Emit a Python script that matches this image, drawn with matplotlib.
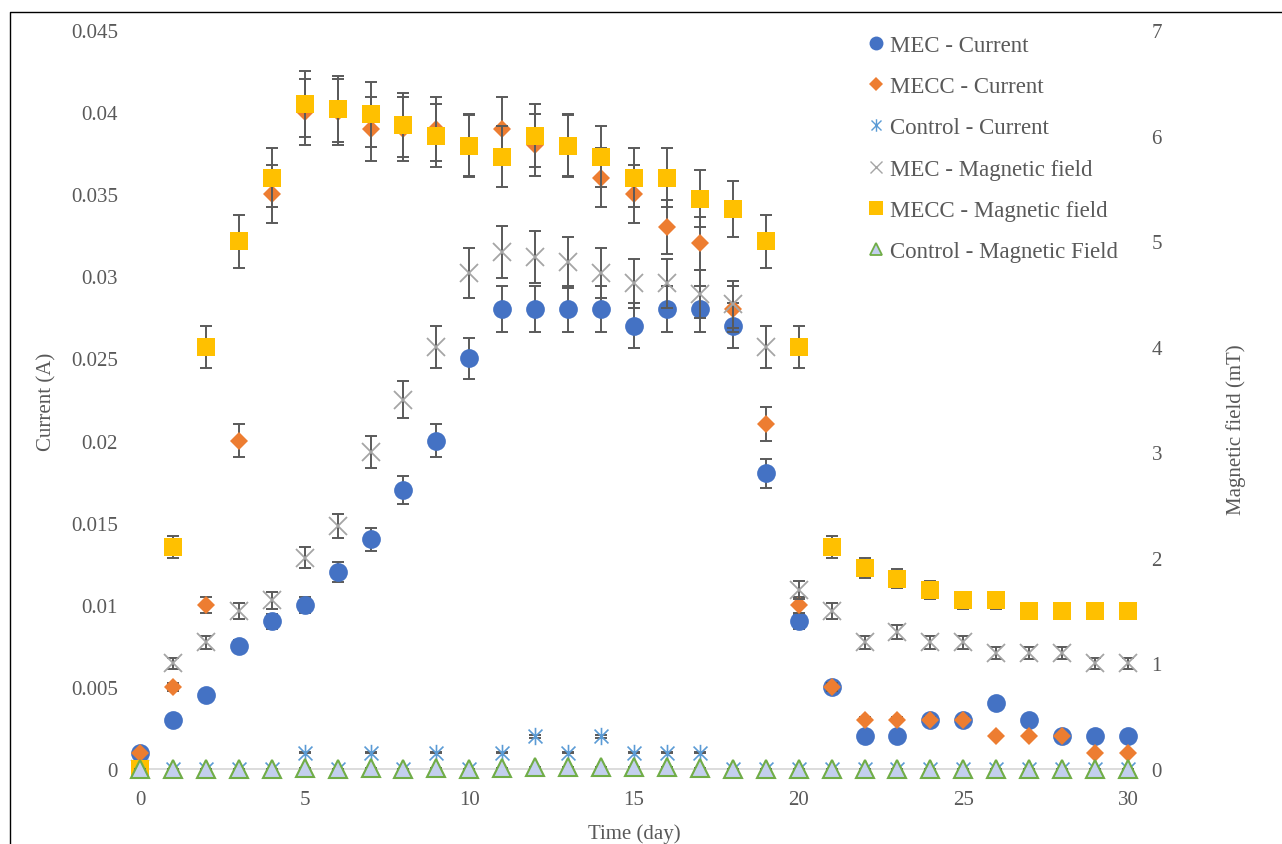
import matplotlib
matplotlib.use("Agg")
import matplotlib.pyplot as plt
from matplotlib.lines import Line2D
from matplotlib.path import Path
import numpy as np

# ---- data ---------------------------------------------------------------
days = list(range(0, 31))

mec_current = [0.001, 0.003, 0.0045, 0.0075, 0.009, 0.010, 0.012, 0.014, 0.017, 0.020,
               0.025, 0.028, 0.028, 0.028, 0.028, 0.027, 0.028, 0.028, 0.027, 0.018,
               0.009, 0.005, 0.002, 0.002, 0.003, 0.003, 0.004, 0.003, 0.002, 0.002, 0.002]
mecc_current = [0.001, 0.005, 0.010, 0.020, 0.035, 0.040, 0.040, 0.039, 0.039, 0.039,
                0.038, 0.039, 0.038, 0.038, 0.036, 0.035, 0.033, 0.032, 0.028, 0.021,
                0.010, 0.005, 0.003, 0.003, 0.003, 0.003, 0.002, 0.002, 0.002, 0.001, 0.001]
control_current = [0, 0, 0, 0, 0, 0.001, 0, 0.001, 0, 0.001,
                   0, 0.001, 0.002, 0.001, 0.002, 0.001, 0.001, 0.001, 0, 0,
                   0, 0, 0, 0, 0, 0, 0, 0, 0, 0, 0]

mec_field = [0, 1.0, 1.2, 1.5, 1.6, 2.0, 2.3, 3.0, 3.5, 4.0,
             4.7, 4.9, 4.85, 4.8, 4.7, 4.6, 4.6, 4.5, 4.4, 4.0,
             1.7, 1.5, 1.2, 1.3, 1.2, 1.2, 1.1, 1.1, 1.1, 1.0, 1.0]
mecc_field = [0, 2.1, 4.0, 5.0, 5.6, 6.3, 6.25, 6.2, 6.1, 6.0,
              5.9, 5.8, 6.0, 5.9, 5.8, 5.6, 5.6, 5.4, 5.3, 5.0,
              4.0, 2.1, 1.9, 1.8, 1.7, 1.6, 1.6, 1.5, 1.5, 1.5, 1.5]
control_field = [0, 0, 0, 0, 0, 0.01, 0, 0.01, 0, 0.01,
                 0, 0.01, 0.02, 0.02, 0.02, 0.02, 0.02, 0.01, 0, 0,
                 0, 0, 0, 0, 0, 0, 0, 0, 0, 0, 0]

# error bars are a fixed percentage of each value
ERR_FRACTION = 0.05

x_ticks = [0, 5, 10, 15, 20, 25, 30]
current_ticks = [0, 0.005, 0.01, 0.015, 0.02, 0.025, 0.03, 0.035, 0.04, 0.045]
current_labels = ["0", "0.005", "0.01", "0.015", "0.02", "0.025", "0.03", "0.035", "0.04", "0.045"]
field_ticks = [0, 1, 2, 3, 4, 5, 6, 7]

series_labels = ["MEC - Current", "MECC - Current", "Control - Current",
                 "MEC - Magnetic field", "MECC - Magnetic field", "Control - Magnetic Field"]

# ---- style --------------------------------------------------------------
W, H = 1282, 845
DPI = 100
TEXT = "#595959"
ERR = "#5a5a5a"
FONT = ["Liberation Serif", "DejaVu Serif"]

plt.rcParams["font.family"] = FONT
plt.rcParams["text.color"] = TEXT

# asterisk marker: an x crossed with a vertical stroke
asterisk = Path([(-1, -1), (1, 1), (-1, 1), (1, -1), (0, -1.25), (0, 1.25)],
                [Path.MOVETO, Path.LINETO, Path.MOVETO, Path.LINETO, Path.MOVETO, Path.LINETO])

styles = [
    dict(marker="o", ms=13.5, mfc="#4472C4", mec="#4472C4", mew=0),
    dict(marker="D", ms=9.3, mfc="#ED7D31", mec="#ED7D31", mew=0),
    dict(marker=asterisk, ms=12.5, mfc="none", mec="#5B9BD5", mew=1.2),
    dict(marker="x", ms=12.5, mfc="none", mec="#A5A5A5", mew=1.3),
    dict(marker="s", ms=13.2, mfc="#FFC000", mec="#FFC000", mew=0),
    dict(marker="^", ms=12.5, mfc="#C3CFEE", mec="#70AD47", mew=1.5),
]
legend_sizes = [10.0, 7.0, 9.0, 9.0, 9.5, 9.0]

fig = plt.figure(figsize=(W / DPI, H / DPI), dpi=DPI)
px = lambda x, y: (x / W, 1 - y / H)

left, right, top, bottom = 140, 1128, 31, 770
ax1 = fig.add_axes([left / W, 1 - bottom / H, (right - left) / W, (bottom - top) / H])
ax2 = ax1.twinx()


def draw(ax, values, style, z):
    vals = np.asarray(values, dtype=float)
    ax.errorbar(days, vals, yerr=vals * ERR_FRACTION, fmt="none", ecolor=ERR,
                elinewidth=1.4, capsize=4.3, capthick=1.4, zorder=z, clip_on=False)
    ax.plot(days, vals, linestyle="none", zorder=z + 0.1, clip_on=False, **style)


draw(ax1, mec_current, styles[0], 3)
draw(ax1, mecc_current, styles[1], 4)
draw(ax1, control_current, styles[2], 5)
draw(ax2, mec_field, styles[3], 3)
draw(ax2, mecc_field, styles[4], 4)
draw(ax2, control_field, styles[5], 5)

ax1.set_xlim(0, 30)
ax1.set_ylim(0, 0.045)
ax2.set_ylim(0, 7)
ax1.set_xticks(x_ticks)
ax1.set_yticks(current_ticks)
ax1.set_yticklabels(current_labels)
ax2.set_yticks(field_ticks)

for ax in (ax1, ax2):
    for s in ax.spines.values():
        s.set_visible(False)
    ax.tick_params(length=0, labelsize=15, labelcolor=TEXT)
ax1.spines["bottom"].set_visible(True)
ax1.spines["bottom"].set_color("#D9D9D9")
ax1.spines["bottom"].set_linewidth(1.3)
ax1.spines["bottom"].set_zorder(1)
ax1.tick_params(axis="y", pad=16)
ax1.tick_params(axis="x", pad=15)
ax2.tick_params(axis="y", pad=17)

# axis titles
fig.text(*px(47, 402), "Current (A)", rotation=90, ha="center", va="center", fontsize=15, color=TEXT)
fig.text(*px(1236, 430), "Magnetic field (mT)", rotation=90, ha="center", va="center", fontsize=15, color=TEXT)
fig.text(*px(634, 834), "Time (day)", ha="center", va="center", fontsize=15, color=TEXT)

# legend
handles = [Line2D([], [], linestyle="none", **{**st, "ms": ls}) for st, ls in zip(styles, legend_sizes)]
handles[2].set_markeredgewidth(1.0)
handles[3].set_markeredgewidth(1.0)
handles[5].set_markeredgewidth(1.3)
leg = ax2.legend(handles, series_labels, loc="upper left",
                 bbox_to_anchor=px(869, 36), bbox_transform=fig.transFigure,
                 frameon=False, fontsize=16.5, handlelength=0.6, handletextpad=0.32,
                 borderpad=0, borderaxespad=0, labelspacing=0.88, labelcolor=TEXT)

# outer frame along the top and left edges
fig.add_artist(Line2D([10 / W, 10 / W, 1], [0, 1 - 13 / H, 1 - 13 / H],
                      transform=fig.transFigure, color="black", lw=1.0))

fig.savefig("out.png", dpi=DPI)
